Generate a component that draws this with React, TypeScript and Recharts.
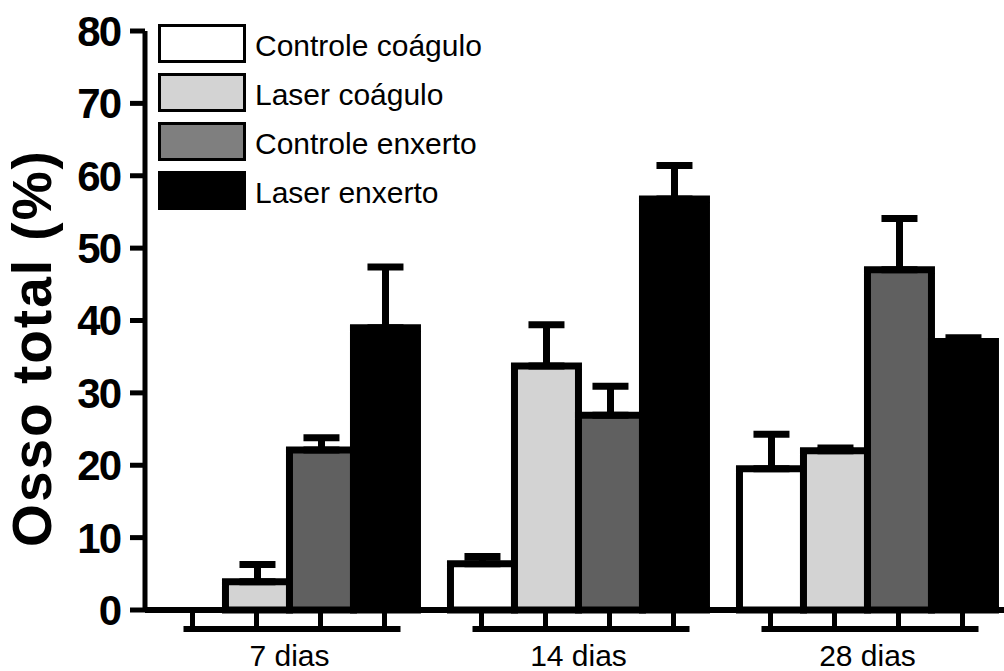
import React from "react";
import { BarChart, Bar, XAxis, YAxis, ErrorBar } from "recharts";

const categories = ["7 dias", "14 dias", "28 dias"];
const seriesNames = ["Controle coágulo", "Laser coágulo", "Controle enxerto", "Laser enxerto"];

// mean values (%) and upper SEM per group
const controleCoagulo = [0, 6.4, 19.5];
const controleCoaguloErr = [0, 1.0, 4.8];
const laserCoagulo = [3.9, 33.7, 22.0];
const laserCoaguloErr = [2.4, 5.7, 0.4];
const controleEnxerto = [22.1, 26.9, 47.0];
const controleEnxertoErr = [1.7, 4.0, 7.1];
const laserEnxerto = [39.0, 56.8, 37.1];
const laserEnxertoErr = [8.4, 4.6, 0.5];

const yTicks = [0, 10, 20, 30, 40, 50, 60, 70, 80];

const FONT = "'Liberation Sans', Arial, Helvetica, sans-serif";
const BAR_COLORS = ["#ffffff", "#d3d3d3", "#606060", "#000000"];
const LEGEND_COLORS = ["#ffffff", "#d3d3d3", "#7f7f7f", "#000000"];

const CHART_W = 1020;
const CHART_H = 671;
const MARGIN = { top: 31, right: 8, bottom: 11, left: 20 };
const Y_AXIS_W = 125;
const PLOT_W = CHART_W - MARGIN.left - MARGIN.right - Y_AXIS_W;
const GAP_FRAC = 0.057;
const BAND = PLOT_W / categories.length;
const BAR_W = (BAND * (1 - 2 * GAP_FRAC)) / seriesNames.length;

const data = categories.map((name, i) => ({
  name,
  cc: controleCoagulo[i],
  ccErr: [0, controleCoaguloErr[i]],
  lc: laserCoagulo[i],
  lcErr: [0, laserCoaguloErr[i]],
  ce: controleEnxerto[i],
  ceErr: [0, controleEnxertoErr[i]],
  le: laserEnxerto[i],
  leErr: [0, laserEnxertoErr[i]],
}));

const keys = ["cc", "lc", "ce", "le"];

function GroupTick(props: any) {
  const { x, y, payload } = props;
  return (
    <g>
      <line x1={x - 106} x2={x + 111} y1={y + 19} y2={y + 19} stroke="#000" strokeWidth={6} />
      {keys.map((k, i) => {
        const cx = x + (i - 1.5) * BAR_W - 1;
        return <line key={k} x1={cx} x2={cx} y1={y + 3} y2={y + 19} stroke="#000" strokeWidth={5} />;
      })}
      <text x={x} y={y + 56} textAnchor="middle" fontSize={30} fontFamily={FONT} fill="#000">
        {payload.value}
      </text>
    </g>
  );
}

function YLabel() {
  return (
    <text
      x={51}
      y={348}
      transform="rotate(-90 51 348)"
      textAnchor="middle"
      fontSize={55}
      fontWeight="bold"
      letterSpacing={2}
      fontFamily={FONT}
      fill="#000"
    >
      Osso total (%)
    </text>
  );
}

function LegendBox() {
  return (
    <svg width={500} height={230} style={{ position: "absolute", left: 0, top: 0 }}>
      {seriesNames.map((s, i) => {
        const top = 25.5 + i * 49;
        return (
          <g key={s}>
            <rect x={159.5} y={top} width={85} height={36} fill={LEGEND_COLORS[i]} stroke="#000" strokeWidth={3} />
            <text x={255} y={top + 30} fontSize={30} fontFamily={FONT} fill="#000">
              {s}
            </text>
          </g>
        );
      })}
    </svg>
  );
}

export default function App() {
  return (
    <div
      style={{
        position: "absolute",
        left: 0,
        top: 0,
        width: 1004,
        height: 671,
        overflow: "hidden",
        background: "#fff",
      }}
    >
      <BarChart
        width={CHART_W}
        height={CHART_H}
        data={data}
        margin={MARGIN}
        barGap={0}
        barCategoryGap={`${GAP_FRAC * 100}%`}
      >
        <XAxis
          dataKey="name"
          height={50}
          tick={<GroupTick />}
          tickLine={false}
          tickSize={0}
          tickMargin={0}
          axisLine={{ stroke: "#000", strokeWidth: 6 }}
          interval={0}
        />
        <YAxis
          width={Y_AXIS_W}
          domain={[0, 80]}
          ticks={yTicks}
          interval={0}
          tickSize={15}
          tickMargin={10}
          axisLine={{ stroke: "#000", strokeWidth: 5 }}
          tickLine={{ stroke: "#000", strokeWidth: 5 }}
          tick={{ fill: "#000", fontSize: 42, fontWeight: "bold", fontFamily: FONT, letterSpacing: -2 }}
          label={{ content: <YLabel /> }}
        />
        {keys.map((k, i) => (
          <Bar
            key={k}
            dataKey={k}
            name={seriesNames[i]}
            fill={BAR_COLORS[i]}
            stroke="#000"
            strokeWidth={7}
            isAnimationActive={false}
          >
            <ErrorBar dataKey={`${k}Err`} direction="y" width={18} stroke="#000" strokeWidth={7} />
          </Bar>
        ))}
      </BarChart>
      <LegendBox />
    </div>
  );
}
